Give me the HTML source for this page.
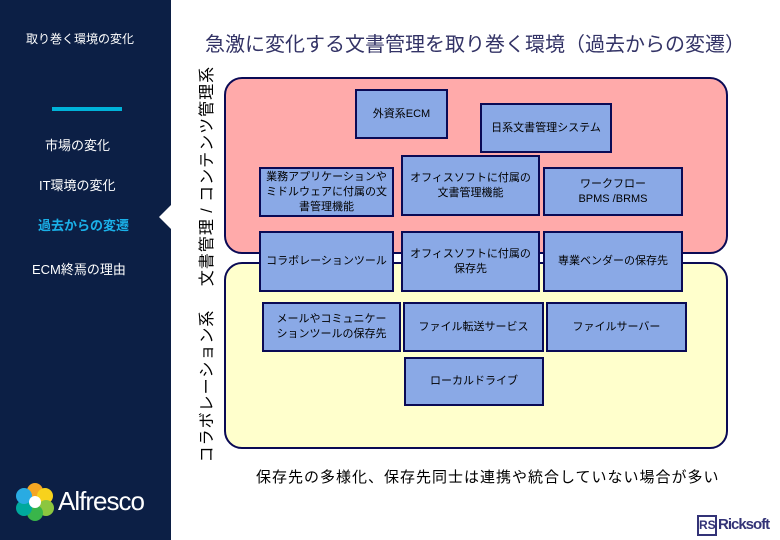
<!DOCTYPE html>
<html><head><meta charset="utf-8"><style>
*{margin:0;padding:0;box-sizing:border-box}
body{width:780px;height:540px;position:relative;background:#fff;font-family:"Liberation Sans","Noto Sans CJK JP",sans-serif;overflow:hidden}
.side{position:absolute;left:0;top:0;width:171px;height:540px;background:#0c1f45}
.t{position:absolute;color:#fff;white-space:nowrap}
.pan{position:absolute;border:2px solid #0a0a55;border-radius:18px}
.b{position:absolute;background:#8aa9e6;border:2px solid #0a0a55;display:flex;align-items:center;justify-content:center;text-align:center;font-size:11px;line-height:15px;color:#000}
.rot{position:absolute;color:#000;font-size:16px;white-space:nowrap;text-align:center;transform:translate(-50%,-50%) rotate(-90deg)}
</style></head><body>
<div class="side"></div>
<div class="t" style="left:26px;top:30px;font-size:12px">取り巻く環境の変化</div>
<div style="position:absolute;left:52px;top:107px;width:70px;height:4px;background:#00b2d8"></div>
<div class="t" style="left:45px;top:135px;font-size:13px">市場の変化</div>
<div class="t" style="left:39px;top:175px;font-size:13px">IT環境の変化</div>
<div class="t" style="left:38px;top:215px;font-size:13px;color:#1ab0e8;font-weight:bold">過去からの変遷</div>
<div class="t" style="left:32px;top:259px;font-size:13px">ECM終焉の理由</div>
<div style="position:absolute;left:159px;top:205px;width:0;height:0;border-top:12px solid transparent;border-bottom:12px solid transparent;border-right:12px solid #fff"></div>
<svg style="position:absolute;left:15px;top:482px" width="40" height="40" viewBox="0 0 40 40">
<circle cx="20" cy="9" r="8" fill="#f5a623"/><circle cx="30" cy="14" r="8" fill="#f7d21c"/><circle cx="31" cy="26" r="8" fill="#8cc63f"/><circle cx="20" cy="31" r="8" fill="#39b54a"/><circle cx="9" cy="26" r="8" fill="#00a99d"/><circle cx="9" cy="14" r="8" fill="#29abe2"/><circle cx="20" cy="20" r="6" fill="#fff"/></svg>
<div class="t" style="left:58px;top:486px;font-size:26px;letter-spacing:-1px">Alfresco</div>
<div class="t" style="left:205px;top:28px;font-size:20px;color:#333366">急激に変化する文書管理を取り巻く環境（過去からの変遷）</div>
<div class="rot" style="left:205px;top:176px;letter-spacing:1px">文書管理 / コンテンツ管理系</div>
<div class="rot" style="left:205px;top:386px;letter-spacing:1px">コラボレーション系</div>
<div class="pan" style="left:224px;top:77px;width:504px;height:177px;background:#ffaaaa"></div>
<div class="pan" style="left:224px;top:262px;width:504px;height:187px;background:#ffffcc"></div>
<div class="b" style="left:355px;top:89px;width:93px;height:50px">外資系ECM</div>
<div class="b" style="left:480px;top:103px;width:132px;height:50px">日系文書管理システム</div>
<div class="b" style="left:259px;top:167px;width:135px;height:50px">業務アプリケーションや<br>ミドルウェアに付属の文<br>書管理機能</div>
<div class="b" style="left:401px;top:155px;width:139px;height:61px">オフィスソフトに付属の<br>文書管理機能</div>
<div class="b" style="left:543px;top:167px;width:140px;height:49px">ワークフロー<br>BPMS /BRMS</div>
<div class="b" style="left:259px;top:231px;width:135px;height:61px">コラボレーションツール</div>
<div class="b" style="left:401px;top:231px;width:139px;height:61px">オフィスソフトに付属の<br>保存先</div>
<div class="b" style="left:543px;top:231px;width:140px;height:61px">専業ベンダーの保存先</div>
<div class="b" style="left:262px;top:302px;width:139px;height:50px">メールやコミュニケー<br>ションツールの保存先</div>
<div class="b" style="left:403px;top:302px;width:141px;height:50px">ファイル転送サービス</div>
<div class="b" style="left:546px;top:302px;width:141px;height:50px">ファイルサーバー</div>
<div class="b" style="left:404px;top:357px;width:140px;height:49px">ローカルドライブ</div>
<div class="t" style="left:256px;top:466px;font-size:15px;letter-spacing:1px;color:#000">保存先の多様化、保存先同士は連携や統合していない場合が多い</div>
<div style="position:absolute;left:697px;top:515px;width:20px;height:21px;border:2px solid #333377;color:#333377;font-size:12px;font-weight:bold;line-height:17px;text-align:center">RS</div>
<div class="t" style="left:718px;top:516px;font-size:15px;font-weight:bold;color:#333377;letter-spacing:-1px">Ricksoft</div>
</body></html>
